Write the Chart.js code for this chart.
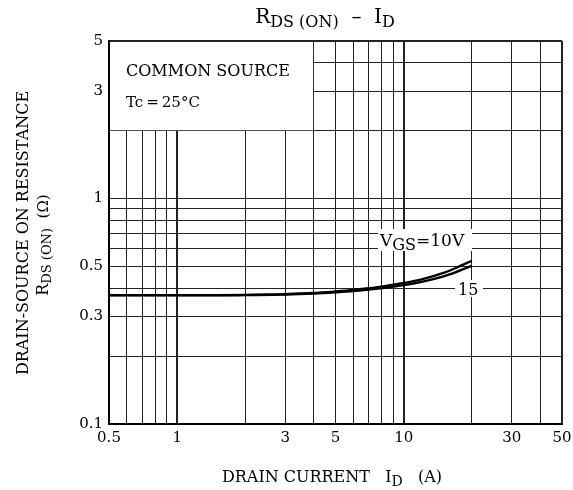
<!DOCTYPE html>
<html><head><meta charset="utf-8">
<script src="https://cdn.jsdelivr.net/npm/chart.js@4/dist/chart.umd.min.js"></script>
<style>html,body{margin:0;padding:0;background:#fff}canvas{display:block}</style>
</head><body>
<canvas id="c" width="573" height="490"></canvas>
<script>
const currents = [0.5, 0.7, 1, 1.5, 2, 3, 4, 5, 6, 7, 8, 10, 12, 15, 17, 20];
const vgs10 = [0.373, 0.373, 0.373, 0.373, 0.374, 0.377, 0.381, 0.387, 0.393, 0.400, 0.407, 0.422, 0.438, 0.468, 0.492, 0.530];
const vgs15 = [0.372, 0.372, 0.372, 0.372, 0.373, 0.375, 0.379, 0.384, 0.389, 0.395, 0.401, 0.413, 0.427, 0.452, 0.472, 0.503];
const xGrid = [0.5,0.6,0.7,0.8,0.9,1,2,3,4,5,6,7,8,9,10,20,30,40,50];
const yGrid = [0.1,0.2,0.3,0.4,0.5,0.6,0.7,0.8,0.9,1,2,3,4,5];
const xLabels = [0.5,1,3,5,10,30,50];
const yLabels = [0.1,0.3,0.5,1,3,5];
const seriesNames = ['VGS=10V','15'];

const SERIF = '"DejaVu Serif", "Liberation Serif", serif';

function runs(ctx, parts, x, y, align) {
  let w = 0;
  parts.forEach(p => { ctx.font = p[1] + 'px ' + SERIF; w += ctx.measureText(p[0]).width; });
  let cx = align === 'center' ? x - w / 2 : x;
  parts.forEach(p => { ctx.font = p[1] + 'px ' + SERIF; ctx.fillText(p[0], cx, y + (p[2] || 0)); cx += ctx.measureText(p[0]).width; });
  return w;
}

const overlay = {
  id: 'overlay',
  beforeDatasetsDraw(chart) {
    const ctx = chart.ctx, xs = chart.scales.x, ys = chart.scales.y;
    ctx.save();
    ctx.fillStyle = '#fff';
    ctx.fillRect(xs.getPixelForValue(0.5) + 1, ys.getPixelForValue(5) + 1,
      xs.getPixelForValue(4) - xs.getPixelForValue(0.5) - 1.5, ys.getPixelForValue(2) - ys.getPixelForValue(5) - 1.5);
    ctx.fillRect(378, 229, 94, 22);
    ctx.fillRect(455, 280, 28, 17);
    ctx.restore();
  },
  afterDraw(chart) {
    const ctx = chart.ctx;
    ctx.save();
    ctx.fillStyle = '#000';
    ctx.textBaseline = 'alphabetic';
    ctx.textAlign = 'left';
    runs(ctx, [['R', 20, 0], ['DS (ON)', 16, 4], ['  \u2013  I', 20, 0], ['D', 16, 4]], 325, 23, 'center');
    runs(ctx, [['COMMON SOURCE', 16, 0]], 126, 76, 'left');
    runs(ctx, [['Tc\u2009=\u200925\u00b0C', 15, 0]], 126, 107, 'left');
    runs(ctx, [['V', 17, 0], ['GS', 16, 4], ['=10V', 17, 0]], 380, 246, 'left');
    runs(ctx, [['15', 16, 0]], 458, 295, 'left');
    runs(ctx, [['DRAIN CURRENT   I', 16, 0], ['D', 14, 4], ['   (A)', 16, 0]], 332, 482, 'center');
    ctx.translate(28, 233);
    ctx.rotate(-Math.PI / 2);
    runs(ctx, [['DRAIN-SOURCE ON RESISTANCE', 16, 0]], 0, 0, 'center');
    ctx.restore();
    ctx.save();
    ctx.fillStyle = '#000';
    ctx.translate(48, 245);
    ctx.rotate(-Math.PI / 2);
    runs(ctx, [['R', 16, 0], ['DS (ON)', 13, 3], ['  (\u03a9)', 15, 0]], 0, 0, 'center');
    ctx.restore();
  }
};

new Chart(document.getElementById('c'), {
  type: 'line',
  data: {
    labels: currents,
    datasets: [
      { label: seriesNames[0], data: currents.map((x, i) => ({ x, y: vgs10[i] })), borderColor: '#000', borderWidth: 2.4, pointRadius: 0, cubicInterpolationMode: 'monotone', fill: false },
      { label: seriesNames[1], data: currents.map((x, i) => ({ x, y: vgs15[i] })), borderColor: '#000', borderWidth: 2.4, pointRadius: 0, cubicInterpolationMode: 'monotone', fill: false }
    ]
  },
  options: {
    responsive: false,
    animation: false,
    devicePixelRatio: 1,
    layout: { padding: { top: 41, right: 11, left: 0, bottom: 0 } },
    plugins: { legend: { display: false }, title: { display: false }, tooltip: { enabled: false } },
    scales: {
      x: {
        type: 'logarithmic', min: 0.5, max: 50,
        afterBuildTicks: s => { s.ticks = xGrid.map(v => ({ value: v })); },
        afterFit: s => { s.height = 66; s.paddingLeft = 0; s.paddingRight = 0; },
        ticks: {
          autoSkip: false, maxRotation: 0, minRotation: 0, padding: 5, color: '#000',
          font: { family: SERIF, size: 15 },
          callback: v => xLabels.includes(v) ? String(v) : ''
        },
        grid: {
          color: '#222', drawTicks: false,
          lineWidth: c => { const v = c.tick ? c.tick.value : 0; return (v === 50 || v === 0.5 || v === 1 || v === 10) ? 2 : 1; }
        },
        border: { display: true, color: '#000', width: 2 }
      },
      y: {
        type: 'logarithmic', min: 0.1, max: 5,
        afterBuildTicks: s => { s.ticks = yGrid.map(v => ({ value: v })); },
        afterFit: s => { s.width = 109; s.paddingTop = 0; s.paddingBottom = 0; },
        ticks: {
          autoSkip: false, padding: 6, color: '#000',
          font: { family: SERIF, size: 15 },
          callback: v => yLabels.includes(v) ? String(v) : ''
        },
        grid: {
          color: '#222', drawTicks: false,
          lineWidth: c => (c.tick && (c.tick.value === 5 || c.tick.value === 0.1)) ? 2 : 1
        },
        border: { display: true, color: '#000', width: 2 }
      }
    }
  },
  plugins: [overlay]
});
</script>
</body></html>
